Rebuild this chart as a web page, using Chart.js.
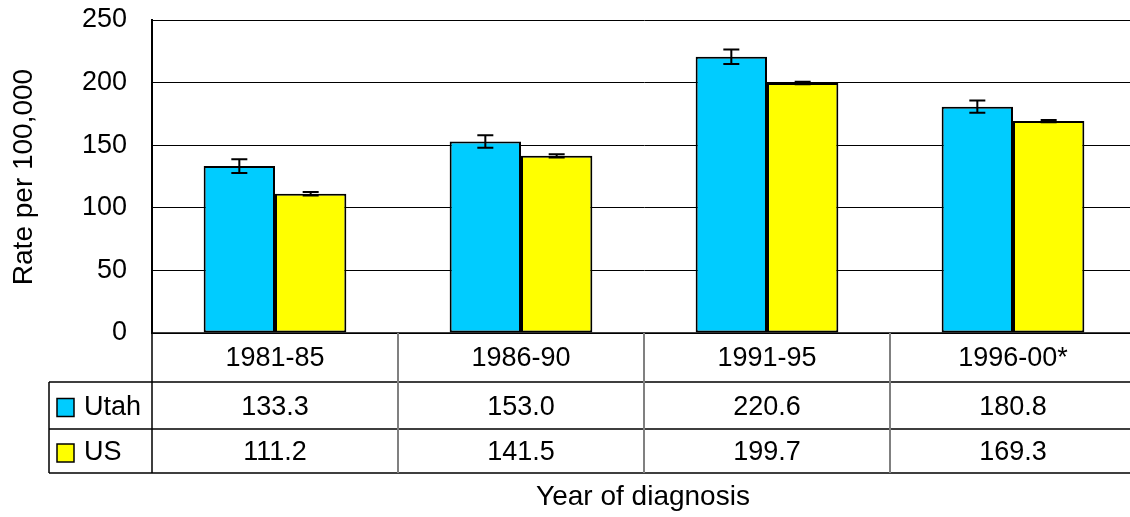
<!DOCTYPE html>
<html>
<head>
<meta charset="utf-8">
<script src="https://cdn.jsdelivr.net/npm/chart.js@4.4.1/dist/chart.umd.min.js"></script>
<style>
  html, body { margin: 0; padding: 0; background: #fff; overflow: hidden; }
  #wrap { width: 1136px; height: 517px; }
</style>
</head>
<body>
<div id="wrap"><canvas id="chart" width="1136" height="517"></canvas></div>
<script>
// data
var categories = ["1981-85", "1986-90", "1991-95", "1996-00*"];
var utahValues = [133.3, 153.0, 220.6, 180.8];
var usValues = [111.2, 141.5, 199.7, 169.3];
var utahErr = [5.5, 5.0, 5.8, 4.9];
var usErr = [1.4, 1.3, 1.0, 0.9];
var yTicks = [0, 50, 100, 150, 200, 250];
var seriesNames = ["Utah", "US"];
var seriesColors = ["#00CCFF", "#FFFF00"];

var FAMILY = "'Liberation Sans', Arial, sans-serif";
var FONT = "27px " + FAMILY;
var TITLE_FONT = "28px " + FAMILY;

// error bars drawn on top of the bars
var errorBars = {
	id: "errorBars",
	afterDatasetsDraw: function(chart) {
		var ctx = chart.ctx;
		var y = chart.scales.y;
		var errs = [utahErr, usErr];
		ctx.save();
		ctx.strokeStyle = "#000";
		ctx.lineWidth = 2;
		chart.data.datasets.forEach(function(ds, di) {
			var meta = chart.getDatasetMeta(di);
			meta.data.forEach(function(bar, i) {
				var v = ds.data[i];
				var top = y.getPixelForValue(v + errs[di][i]);
				var bot = y.getPixelForValue(v - errs[di][i]);
				ctx.beginPath();
				ctx.moveTo(bar.x, top); ctx.lineTo(bar.x, bot);
				ctx.moveTo(bar.x - 8, top); ctx.lineTo(bar.x + 8, top);
				ctx.moveTo(bar.x - 8, bot); ctx.lineTo(bar.x + 8, bot);
				ctx.stroke();
			});
		});
		ctx.restore();
	}
};

// data table under the plot + axis titles
var dataTable = {
	id: "dataTable",
	afterDraw: function(chart) {
		var ctx = chart.ctx;
		var area = chart.chartArea;
		var x = chart.scales.x;
		var rows = [333, 382, 429, 473];
		var legendLeft = 49;
		var left = area.left;
		var right = chart.width;
		var values = [utahValues, usValues];

		ctx.save();
		ctx.lineWidth = 1.5;
		ctx.strokeStyle = "#000";
		// horizontal rules
		ctx.beginPath();
		ctx.moveTo(left, rows[0]); ctx.lineTo(right, rows[0]);
		for (var r = 1; r < rows.length; r++) {
			ctx.moveTo(legendLeft, rows[r]); ctx.lineTo(right, rows[r]);
		}
		// left edges
		ctx.moveTo(left, rows[0]); ctx.lineTo(left, rows[3]);
		ctx.moveTo(legendLeft, rows[1]); ctx.lineTo(legendLeft, rows[3]);
		ctx.stroke();

		// category separators
		ctx.strokeStyle = "#808080";
		ctx.lineWidth = 2;
		ctx.beginPath();
		for (var i = 1; i < categories.length; i++) {
			var sx = Math.round((x.getPixelForValue(i - 1) + x.getPixelForValue(i)) / 2);
			ctx.moveTo(sx, rows[0]); ctx.lineTo(sx, rows[3]);
		}
		ctx.stroke();

		ctx.fillStyle = "#000";
		ctx.font = FONT;
		ctx.textAlign = "center";
		ctx.textBaseline = "middle";
		categories.forEach(function(c, i) {
			var cx = x.getPixelForValue(i);
			ctx.fillText(c, cx, (rows[0] + rows[1]) / 2 + 1);
			ctx.fillText(values[0][i].toFixed(1), cx, (rows[1] + rows[2]) / 2 + 2);
			ctx.fillText(values[1][i].toFixed(1), cx, (rows[2] + rows[3]) / 2 + 2);
		});

		// legend keys
		seriesNames.forEach(function(name, si) {
			var my = (rows[si + 1] + rows[si + 2]) / 2 + 2;
			ctx.fillStyle = seriesColors[si];
			ctx.fillRect(57, my - 9, 17, 18);
			ctx.strokeStyle = "#000";
			ctx.lineWidth = 1.5;
			ctx.strokeRect(57, my - 9, 17, 18);
			ctx.fillStyle = "#000";
			ctx.textAlign = "left";
			ctx.fillText(name, 84, my);
		});

		// axis titles
		ctx.font = TITLE_FONT;
		ctx.textAlign = "center";
		ctx.fillText("Year of diagnosis", 643, 497);
		ctx.translate(24, 177);
		ctx.rotate(-Math.PI / 2);
		ctx.fillText("Rate per 100,000", 0, 0);
		ctx.restore();
	}
};

var ctx = document.getElementById("chart").getContext("2d");
var chart = new Chart(ctx, {
	type: "bar",
	data: {
		labels: categories,
		datasets: [{
			label: seriesNames[0],
			data: utahValues,
			backgroundColor: seriesColors[0],
			borderColor: "#000",
			borderWidth: 2,
			borderSkipped: false
		}, {
			label: seriesNames[1],
			data: usValues,
			backgroundColor: seriesColors[1],
			borderColor: "#000",
			borderWidth: 2,
			borderSkipped: false
		}]
	},
	options: {
		responsive: false,
		animation: false,
		devicePixelRatio: 1,
		layout: { padding: { top: 20, bottom: 184, left: 0, right: 0 } },
		datasets: { bar: { categoryPercentage: 0.58, barPercentage: 1.0 } },
		plugins: {
			legend: { display: false },
			tooltip: { enabled: false }
		},
		scales: {
			x: { display: false },
			y: {
				min: 0,
				max: 250,
				afterFit: function(scale) {
					scale.width = 152;
					scale.paddingTop = 0;
					scale.paddingBottom = 0;
				},
				afterBuildTicks: function(scale) {
					scale.ticks = yTicks.map(function(v) { return { value: v }; });
				},
				grid: { color: "#000", lineWidth: 1, drawTicks: false },
				border: { display: true, color: "#000", width: 2 },
				ticks: {
					color: "#000",
					padding: 25,
					font: { family: FAMILY, size: 27 }
				}
			}
		}
	},
	plugins: [errorBars, dataTable]
});
</script>
</body>
</html>
